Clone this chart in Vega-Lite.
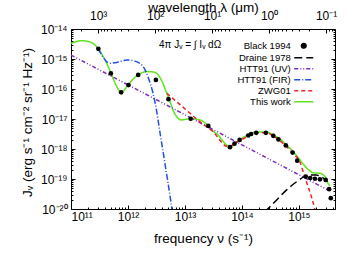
{
  "$schema": "https://vega.github.io/schema/vega-lite/v6.json",
  "width": 264,
  "height": 180,
  "autosize": "none",
  "padding": {"left": 71, "top": 29, "right": 22, "bottom": 46},
  "config": {
    "font": "Liberation Sans",
    "view": {"stroke": "black", "strokeWidth": 1},
    "axis": {"grid": false, "domain": false, "labelFont": "Liberation Sans", "titleFont": "Liberation Sans", "labelFontSize": 12, "titleFontSize": 13.5, "titleFontWeight": "normal", "labelColor": "black", "titleColor": "black", "tickColor": "black", "tickWidth": 1}
  },
  "datasets": {
    "curves": [
      {"series": "This work", "nu": 1.0e11, "J": 3.31e-15},
      {"series": "This work", "nu": 1.55e11, "J": 4.07e-15},
      {"series": "This work", "nu": 2.14e11, "J": 3.72e-15},
      {"series": "This work", "nu": 3.02e11, "J": 2.19e-15},
      {"series": "This work", "nu": 3.80e11, "J": 1.07e-15},
      {"series": "This work", "nu": 4.79e11, "J": 4.27e-16},
      {"series": "This work", "nu": 6.17e11, "J": 1.35e-16},
      {"series": "This work", "nu": 7.59e11, "J": 7.76e-17},
      {"series": "This work", "nu": 1.0e12, "J": 1.35e-16},
      {"series": "This work", "nu": 1.23e12, "J": 2.14e-16},
      {"series": "This work", "nu": 1.51e12, "J": 2.95e-16},
      {"series": "This work", "nu": 2.14e12, "J": 3.80e-16},
      {"series": "This work", "nu": 2.75e12, "J": 3.72e-16},
      {"series": "This work", "nu": 3.39e12, "J": 2.95e-16},
      {"series": "This work", "nu": 4.07e12, "J": 1.58e-16},
      {"series": "This work", "nu": 4.79e12, "J": 7.24e-17},
      {"series": "This work", "nu": 5.50e12, "J": 3.72e-17},
      {"series": "This work", "nu": 6.17e12, "J": 2.0e-17},
      {"series": "This work", "nu": 7.24e12, "J": 1.17e-17},
      {"series": "This work", "nu": 8.51e12, "J": 9.33e-18},
      {"series": "This work", "nu": 1.26e13, "J": 1.02e-17},
      {"series": "This work", "nu": 1.82e13, "J": 9.33e-18},
      {"series": "This work", "nu": 2.57e13, "J": 5.89e-18},
      {"series": "This work", "nu": 3.09e13, "J": 3.98e-18},
      {"series": "This work", "nu": 3.80e13, "J": 2.95e-18},
      {"series": "This work", "nu": 5.01e13, "J": 1.55e-18},
      {"series": "This work", "nu": 6.17e13, "J": 1.15e-18},
      {"series": "This work", "nu": 7.59e13, "J": 1.48e-18},
      {"series": "This work", "nu": 9.12e13, "J": 2.0e-18},
      {"series": "This work", "nu": 1.29e14, "J": 2.95e-18},
      {"series": "This work", "nu": 1.82e14, "J": 3.72e-18},
      {"series": "This work", "nu": 2.69e14, "J": 3.72e-18},
      {"series": "This work", "nu": 3.55e14, "J": 2.95e-18},
      {"series": "This work", "nu": 4.68e14, "J": 2.14e-18},
      {"series": "This work", "nu": 5.62e14, "J": 1.55e-18},
      {"series": "This work", "nu": 7.94e14, "J": 8.13e-19},
      {"series": "This work", "nu": 1.05e15, "J": 4.27e-19},
      {"series": "This work", "nu": 1.38e15, "J": 2.29e-19},
      {"series": "This work", "nu": 1.78e15, "J": 1.62e-19},
      {"series": "This work", "nu": 2.34e15, "J": 1.55e-19},
      {"series": "This work", "nu": 2.88e15, "J": 1.20e-19},
      {"series": "This work", "nu": 3.24e15, "J": 7.24e-20},
      {"series": "This work", "nu": 3.47e15, "J": 5.89e-20},
      {"series": "HTT91 (UV)", "nu": 1.0e11, "J": 1.35e-15},
      {"series": "HTT91 (UV)", "nu": 3.16e12, "J": 4.37e-17},
      {"series": "HTT91 (UV)", "nu": 1.0e14, "J": 1.38e-18},
      {"series": "HTT91 (UV)", "nu": 3.24e15, "J": 4.27e-20},
      {"series": "HTT91 (FIR)", "nu": 3.02e11, "J": 2.19e-15},
      {"series": "HTT91 (FIR)", "nu": 3.63e11, "J": 1.17e-15},
      {"series": "HTT91 (FIR)", "nu": 4.79e11, "J": 7.24e-16},
      {"series": "HTT91 (FIR)", "nu": 6.31e11, "J": 7.59e-16},
      {"series": "HTT91 (FIR)", "nu": 9.55e11, "J": 9.33e-16},
      {"series": "HTT91 (FIR)", "nu": 1.32e12, "J": 8.51e-16},
      {"series": "HTT91 (FIR)", "nu": 1.86e12, "J": 5.50e-16},
      {"series": "HTT91 (FIR)", "nu": 2.29e12, "J": 2.29e-16},
      {"series": "HTT91 (FIR)", "nu": 2.75e12, "J": 7.24e-17},
      {"series": "HTT91 (FIR)", "nu": 3.16e12, "J": 2.0e-17},
      {"series": "HTT91 (FIR)", "nu": 3.63e12, "J": 3.72e-18},
      {"series": "HTT91 (FIR)", "nu": 4.47e12, "J": 3.16e-19},
      {"series": "HTT91 (FIR)", "nu": 5.50e12, "J": 2.51e-20},
      {"series": "HTT91 (FIR)", "nu": 6.31e12, "J": 3.98e-21},
      {"series": "ZWG01", "nu": 4.79e12, "J": 7.24e-17},
      {"series": "ZWG01", "nu": 1.23e13, "J": 1.55e-17},
      {"series": "ZWG01", "nu": 1.82e13, "J": 8.13e-18},
      {"series": "ZWG01", "nu": 3.09e13, "J": 3.80e-18},
      {"series": "ZWG01", "nu": 5.62e13, "J": 1.20e-18},
      {"series": "ZWG01", "nu": 9.12e13, "J": 1.91e-18},
      {"series": "ZWG01", "nu": 1.35e14, "J": 2.75e-18},
      {"series": "ZWG01", "nu": 1.82e14, "J": 3.47e-18},
      {"series": "ZWG01", "nu": 2.69e14, "J": 3.47e-18},
      {"series": "ZWG01", "nu": 3.55e14, "J": 2.69e-18},
      {"series": "ZWG01", "nu": 5.89e14, "J": 1.26e-18},
      {"series": "ZWG01", "nu": 7.94e14, "J": 7.08e-19},
      {"series": "ZWG01", "nu": 1.05e15, "J": 3.55e-19},
      {"series": "ZWG01", "nu": 1.26e15, "J": 1.20e-19},
      {"series": "ZWG01", "nu": 1.45e15, "J": 5.50e-20},
      {"series": "ZWG01", "nu": 1.66e15, "J": 2.57e-20},
      {"series": "ZWG01", "nu": 1.91e15, "J": 9.33e-21},
      {"series": "Draine 1978", "nu": 2.51e14, "J": 7.94e-21},
      {"series": "Draine 1978", "nu": 4.07e14, "J": 2.0e-20},
      {"series": "Draine 1978", "nu": 6.03e14, "J": 4.27e-20},
      {"series": "Draine 1978", "nu": 9.12e14, "J": 8.13e-20},
      {"series": "Draine 1978", "nu": 1.20e15, "J": 1.15e-19},
      {"series": "Draine 1978", "nu": 1.58e15, "J": 1.35e-19},
      {"series": "Draine 1978", "nu": 2.0e15, "J": 1.35e-19},
      {"series": "Draine 1978", "nu": 2.51e15, "J": 1.17e-19},
      {"series": "Draine 1978", "nu": 3.16e15, "J": 8.13e-20}
    ],
    "black": [
      {"nu": 3.02e11, "J": 2.19e-15},
      {"nu": 5.01e11, "J": 3.31e-16},
      {"nu": 7.59e11, "J": 7.76e-17},
      {"nu": 1.02e12, "J": 1.35e-16},
      {"nu": 1.51e12, "J": 2.95e-16},
      {"nu": 3.09e12, "J": 2.0e-16},
      {"nu": 5.13e12, "J": 4.57e-17},
      {"nu": 1.26e13, "J": 1.02e-17},
      {"nu": 2.57e13, "J": 5.89e-18},
      {"nu": 6.17e13, "J": 1.15e-18},
      {"nu": 7.41e13, "J": 1.51e-18},
      {"nu": 9.12e13, "J": 2.0e-18},
      {"nu": 1.29e14, "J": 2.82e-18},
      {"nu": 1.45e14, "J": 3.16e-18},
      {"nu": 1.78e14, "J": 3.47e-18},
      {"nu": 2.63e14, "J": 3.47e-18},
      {"nu": 3.55e14, "J": 2.75e-18},
      {"nu": 4.37e14, "J": 2.09e-18},
      {"nu": 5.89e14, "J": 1.32e-18},
      {"nu": 7.76e14, "J": 7.59e-19},
      {"nu": 9.33e14, "J": 4.07e-19},
      {"nu": 1.32e15, "J": 1.20e-19},
      {"nu": 1.58e15, "J": 1.07e-19},
      {"nu": 1.91e15, "J": 1.02e-19},
      {"nu": 2.34e15, "J": 9.77e-20},
      {"nu": 2.95e15, "J": 9.33e-20},
      {"nu": 3.39e15, "J": 4.57e-20},
      {"nu": 3.63e15, "J": 2.29e-20}
    ],
    "note": [{"nu": 1.23e13, "J": 2.95e-15, "label": "4π Jᵥ = ∫ Iᵥ dΩ"}],
    "wl": [{"lam": 1}]
  },
  "layer": [
    {
      "layer": [
        {
          "data": {"name": "curves"},
          "mark": {"type": "line", "clip": true, "strokeWidth": 1.5, "interpolate": "monotone"},
          "encoding": {
            "x": {"field": "nu", "type": "quantitative", "scale": {"type": "log", "domain": [1e11, 4.3e15], "nice": false},
              "axis": {"orient": "bottom", "values": [1e11, 1e12, 1e13, 1e14, 1e15], "tickSize": -4, "labelPadding": 6, "labelExpr": "datum.value < 5e11 ? '10¹¹' : datum.value < 5e12 ? '10¹²' : datum.value < 5e13 ? '10¹³' : datum.value < 5e14 ? '10¹⁴' : '10¹⁵'", "title": "frequency ν (s⁻¹)", "titleBaseline": "alphabetic", "titleY": 33}},
            "y": {"field": "J", "type": "quantitative", "scale": {"type": "log", "domain": [1e-20, 1e-14], "nice": false},
              "axis": {"orient": "left", "values": [1e-20, 1e-19, 1e-18, 1e-17, 1e-16, 1e-15, 1e-14], "tickSize": -4, "labelPadding": 8, "labelExpr": "datum.value < 5e-20 ? '10⁻²⁰' : datum.value < 5e-19 ? '10⁻¹⁹' : datum.value < 5e-18 ? '10⁻¹⁸' : datum.value < 5e-17 ? '10⁻¹⁷' : datum.value < 5e-16 ? '10⁻¹⁶' : datum.value < 5e-15 ? '10⁻¹⁵' : '10⁻¹⁴'", "title": "Jᵥ (erg s⁻¹ cm⁻² sr⁻¹ Hz⁻¹)", "titleBaseline": "alphabetic", "titleX": -40, "titleY": 93}},
            "color": {"field": "series", "type": "nominal",
              "scale": {"domain": ["Black 1994", "Draine 1978", "HTT91 (UV)", "HTT91 (FIR)", "ZWG01", "This work"], "range": ["#000000", "#000000", "#7a2bbf", "#1f4fe8", "#ee2222", "#5de51f"]},
              "legend": {"orient": "none", "legendX": 228, "legendY": 12, "title": null, "padding": 0, "columns": 1, "labelAlign": "right", "labelOffset": -17.75, "rowPadding": 0, "symbolSize": 22.5, "symbolStrokeWidth": 1.5, "labelFontSize": 9.5, "labelFont": "Liberation Sans", "labelColor": "black",
                "encode": {"symbols": {"update": {
                  "shape": {"signal": "datum.value === 'Black 1994' ? 'circle' : 'M-4,0H4'"},
                  "size": {"signal": "datum.value === 'Black 1994' ? 22 : 22.5"},
                  "fill": {"signal": "datum.value === 'Black 1994' ? '#000000' : 'transparent'"}}}}}},
            "strokeDash": {"field": "series", "type": "nominal",
              "scale": {"domain": ["Black 1994", "Draine 1978", "HTT91 (UV)", "HTT91 (FIR)", "ZWG01", "This work"], "range": [[1, 0], [8, 4], [4, 2, 1, 2, 1, 2], [6, 2, 1, 2], [4, 3], [1, 0]]}}
          }
        },
        {
          "data": {"name": "black"},
          "mark": {"type": "point", "filled": true, "color": "black", "size": 22, "opacity": 1},
          "encoding": {
            "x": {"field": "nu", "type": "quantitative", "axis": {"orient": "bottom", "values": [2e11,3e11,4e11,5e11,6e11,7e11,8e11,9e11,2e12,3e12,4e12,5e12,6e12,7e12,8e12,9e12,2e13,3e13,4e13,5e13,6e13,7e13,8e13,9e13,2e14,3e14,4e14,5e14,6e14,7e14,8e14,9e14,2e15,3e15,4e15], "tickSize": -2, "labels": false, "title": null}},
            "y": {"field": "J", "type": "quantitative", "axis": {"orient": "left", "values": [2e-20,3e-20,4e-20,5e-20,6e-20,7e-20,8e-20,9e-20,2e-19,3e-19,4e-19,5e-19,6e-19,7e-19,8e-19,9e-19,2e-18,3e-18,4e-18,5e-18,6e-18,7e-18,8e-18,9e-18,2e-17,3e-17,4e-17,5e-17,6e-17,7e-17,8e-17,9e-17,2e-16,3e-16,4e-16,5e-16,6e-16,7e-16,8e-16,9e-16,2e-15,3e-15,4e-15,5e-15,6e-15,7e-15,8e-15,9e-15], "tickSize": -2, "labels": false, "title": null}}
          }
        },
        {
          "data": {"name": "note"},
          "mark": {"type": "text", "fontSize": 10, "font": "Liberation Sans", "color": "black", "align": "center", "baseline": "middle"},
          "encoding": {
            "x": {"field": "nu", "type": "quantitative", "axis": null},
            "y": {"field": "J", "type": "quantitative", "axis": {"orient": "right", "values": [1e-20, 1e-19, 1e-18, 1e-17, 1e-16, 1e-15, 1e-14], "tickSize": -4, "labels": false, "title": null}},
            "text": {"field": "label"}
          }
        },
        {
          "data": {"name": "black"},
          "mark": {"type": "point", "opacity": 0},
          "encoding": {
            "x": {"field": "nu", "type": "quantitative", "axis": null},
            "y": {"field": "J", "type": "quantitative", "axis": {"orient": "right", "values": [2e-20,3e-20,4e-20,5e-20,6e-20,7e-20,8e-20,9e-20,2e-19,3e-19,4e-19,5e-19,6e-19,7e-19,8e-19,9e-19,2e-18,3e-18,4e-18,5e-18,6e-18,7e-18,8e-18,9e-18,2e-17,3e-17,4e-17,5e-17,6e-17,7e-17,8e-17,9e-17,2e-16,3e-16,4e-16,5e-16,6e-16,7e-16,8e-16,9e-16,2e-15,3e-15,4e-15,5e-15,6e-15,7e-15,8e-15,9e-15], "tickSize": -2, "labels": false, "title": null}}
          }
        }
      ],
      "resolve": {"axis": {"x": "independent", "y": "independent"}}
    },
    {
      "data": {"name": "wl"},
      "mark": {"type": "point", "opacity": 0},
      "encoding": {
        "x": {"field": "lam", "type": "quantitative", "scale": {"type": "log", "domain": [0.06972, 2998], "reverse": true, "nice": false},
          "axis": {"orient": "top", "values": [0.1, 1, 10, 100, 1000], "tickSize": -4, "labelPadding": 11, "labelExpr": "datum.value < 0.5 ? '10⁻¹' : datum.value < 5 ? '10⁰' : datum.value < 50 ? '10¹' : datum.value < 500 ? '10²' : '10³'", "title": "wavelength λ (μm)", "titleBaseline": "alphabetic", "titleY": -18}}
      }
    },
    {
      "data": {"name": "wl"},
      "mark": {"type": "point", "opacity": 0},
      "encoding": {
        "x": {"field": "lam", "type": "quantitative", "scale": {"type": "log", "domain": [0.06972, 2998], "reverse": true, "nice": false},
          "axis": {"orient": "top", "values": [0.08,0.09,0.2,0.3,0.4,0.5,0.6,0.7,0.8,0.9,2,3,4,5,6,7,8,9,20,30,40,50,60,70,80,90,200,300,400,500,600,700,800,900,2000], "tickSize": -2, "labels": false, "title": null}}
      }
    }
  ],
  "resolve": {"scale": {"x": "independent"}}
}
